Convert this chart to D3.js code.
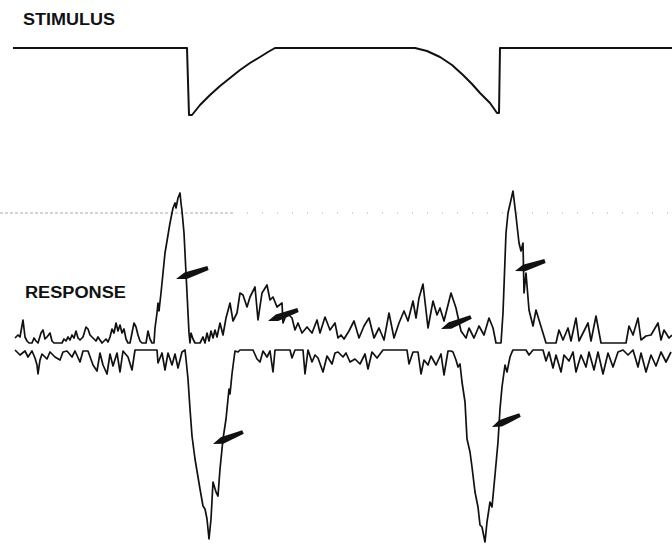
<!DOCTYPE html>
<html>
<head>
<meta charset="utf-8">
<script src="https://cdn.jsdelivr.net/npm/d3@7"></script>
<style>
  body { margin: 0; background: #fff; }
  svg { display: block; }
  .label { font-family: "Liberation Sans", Arial, sans-serif; font-size: 16px; font-weight: bold; fill: #111; }
  .trace { fill: none; stroke: #111; stroke-linejoin: round; }
</style>
</head>
<body>
<svg id="chart" width="672" height="544"></svg>
<script>
// stimulus waveform: [sample, level]
const stimulus = [
    [13, 0], [187, 0], [189, -67], [192, -67], [200, -57], [210, -47], [220, -38], [230, -30],
    [240, -22], [250, -15], [260, -9], [268, -4], [275, 0], [415, 0], [427, -3], [440, -9],
    [452, -17], [463, -27], [472, -36], [480, -45], [490, -55], [497, -65], [499, -65], [500, 0], [672, 0]
];

// response, upper (positive) half: [sample, amplitude]
const responseUp = [
    [15,5],[18,8],[20,6],[23,23],[25,6],[27,2],[29,0],[32,0],[34,5],[36,2],[38,0],[41,10],[43,13],[45,4],
    [47,6],[50,10],[52,2],[54,0],[58,0],[62,0],[64,4],[66,2],[68,6],[70,3],[72,8],[74,5],[76,12],[78,5],
    [80,3],[83,6],[86,16],[88,14],[90,8],[92,6],[94,4],[96,2],[98,6],[100,3],[102,0],[104,2],[106,4],[108,1],
    [110,6],[112,14],[114,10],[116,20],[118,12],[120,18],[122,10],[124,14],[126,4],[128,0],[130,0],[132,10],
    [134,20],[136,16],[138,8],[140,2],[142,0],[146,0],[148,12],[150,4],[152,0],[154,0],
    [155,15],[157,30],[158,40],[159,32],[161,50],[165,90],[170,120],[173,135],[175,140],[176,135],[178,145],
    [180,150],[181,140],[182,132],[184,110],[186,70],[188,30],[189,10],[190,0],
    [191,10],[193,4],[195,0],[200,0],[203,6],[205,0],[207,10],[209,2],[211,12],[213,5],[215,13],[217,6],
    [220,20],[223,8],[226,25],[230,40],[233,22],[237,30],[240,50],[243,48],[247,36],[250,46],[255,56],
    [258,23],[262,50],[267,58],[270,43],[273,46],[277,36],[282,40],[283,20],[287,30],[292,25],[295,13],
    [298,20],[302,10],[307,16],[312,10],[317,23],[320,10],[325,26],[330,13],[335,20],[338,5],[341,8],[344,4],
    [349,12],[354,22],[359,5],[364,17],[369,25],[374,5],[379,15],[384,3],[389,30],[394,5],[399,20],[404,32],
    [408,22],[413,42],[416,25],[419,45],[423,59],[428,15],[433,42],[437,28],[440,35],[444,22],[451,50],
    [456,35],[461,12],[466,5],[469,15],[474,5],[479,17],[484,8],[489,25],[493,15],[496,0],[501,0],
    [503,30],[506,110],[508,130],[513,152],[516,127],[519,100],[521,92],[523,100],[524,50],[526,70],[529,33],
    [533,17],[536,33],[539,23],[543,10],[546,0],
    [552,0],[556,0],[559,13],[563,3],[568,15],[571,2],[576,25],[579,2],[583,10],[588,20],[591,2],[596,27],
    [601,0],[626,0],[629,17],[633,8],[638,25],[641,3],[646,7],[651,8],[658,20],[661,3],[664,13],[669,5],[672,8]
];

// response, lower (negative) half: [sample, depth]
const responseDown = [
    [15,0],[20,5],[25,1],[28,7],[32,1],[35,8],[37,15],[38,24],[40,10],[42,4],[47,9],[50,2],[55,7],[60,10],
    [63,2],[67,1],[72,7],[75,1],[80,12],[83,1],[88,1],[93,15],[97,21],[100,3],[103,15],[107,24],[110,4],
    [113,16],[117,3],[120,22],[123,1],[128,7],[132,20],[135,0],[157,0],[158,13],[162,3],[165,20],[168,3],
    [172,15],[175,4],[178,18],[182,2],[185,0],
    [186,9],[188,29],[190,59],[192,86],[195,109],[200,139],[203,156],[205,159],[207,169],[209,189],[211,169],
    [213,132],[216,142],[218,146],[220,119],[223,89],[226,69],[228,49],[229,39],[230,44],[232,24],[233,16],
    [235,1],[238,2],
    [240,0],[253,0],[257,9],[260,12],[263,1],[267,7],[270,1],[273,22],[275,0],[290,0],[292,8],[295,0],[303,0],
    [305,24],[308,0],[312,12],[315,5],[318,8],[323,22],[327,6],[332,14],[335,3],[338,2],[343,7],[346,3],
    [350,12],[355,9],[360,14],[365,4],[368,19],[372,2],[377,8],[383,0],[407,0],[409,14],[413,2],[418,2],
    [421,24],[424,10],[428,15],[431,6],[436,15],[441,4],[444,25],[448,1],[451,1],
    [453,2],[456,10],[458,17],[460,14],[462,32],[465,52],[467,89],[470,102],[472,117],[475,142],[478,157],
    [480,175],[482,177],[485,192],[487,172],[490,152],[492,157],[495,125],[498,92],[500,59],[502,37],
    [505,15],[507,22],[510,7],[512,2],
    [513,0],[526,0],[529,5],[533,0],[543,0],[546,11],[549,2],[553,18],[556,5],[561,22],[564,5],[569,11],
    [573,2],[576,22],[581,5],[586,17],[589,2],[594,20],[598,2],[603,24],[608,3],[613,17],[618,2],[623,0],
    [628,5],[633,0],[638,17],[641,3],[646,22],[651,5],[656,16],[661,2],[666,12],[671,2]
];

// arrows: head and tail, in trace coordinates
const arrowsUp = [
    {head: [176, 64], tail: [208, 75]},
    {head: [268, 22], tail: [298, 33]},
    {head: [441, 14], tail: [471, 26]},
    {head: [515, 72], tail: [545, 82]}
];
const arrowsDown = [
    {head: [213, 94], tail: [243, 82]},
    {head: [492, 77], tail: [520, 65]}
];

// faint scan streak above the response
const streaks = [[0, 232, "3,2"], [232, 672, "1,14"]];

const svg = d3.select("#chart");

const x = d3.scaleLinear().domain([0, 672]).range([0, 672]);
const yStim = d3.scaleLinear().domain([-67, 0]).range([115, 48]);
const yUp = d3.scaleLinear().domain([0, 150]).range([343, 193]);
const yDown = d3.scaleLinear().domain([0, 190]).range([350, 540]);

// labels
svg.append("text").attr("class", "label")
    .attr("x", 23).attr("y", 25)
    .attr("textLength", 92).attr("lengthAdjust", "spacingAndGlyphs")
    .text("STIMULUS");

svg.append("text").attr("class", "label")
    .attr("x", 25).attr("y", 298)
    .attr("textLength", 101).attr("lengthAdjust", "spacingAndGlyphs")
    .text("RESPONSE");

// streak
svg.selectAll("line.streak")
    .data(streaks)
    .join("line")
    .attr("class", "streak")
    .attr("x1", d => x(d[0]))
    .attr("x2", d => x(d[1]))
    .attr("y1", yUp(130))
    .attr("y2", yUp(130))
    .attr("stroke", "#aaa")
    .attr("stroke-width", 1)
    .attr("stroke-dasharray", d => d[2]);

// stimulus
svg.append("path")
    .datum(stimulus)
    .attr("class", "trace")
    .attr("stroke-width", 2)
    .attr("d", d3.line().x(d => x(d[0])).y(d => yStim(d[1])));

// response halves
svg.append("path")
    .datum(responseUp)
    .attr("class", "trace")
    .attr("stroke-width", 1.7)
    .attr("d", d3.line().x(d => x(d[0])).y(d => yUp(d[1])));

svg.append("path")
    .datum(responseDown)
    .attr("class", "trace")
    .attr("stroke-width", 1.7)
    .attr("d", d3.line().x(d => x(d[0])).y(d => yDown(d[1])));

// arrows as tapered wedges
function arrowShape(a, yScale) {
    const hx = x(a.head[0]), hy = yScale(a.head[1]);
    const tx = x(a.tail[0]), ty = yScale(a.tail[1]);
    const dx = tx - hx, dy = ty - hy;
    const len = Math.sqrt(dx * dx + dy * dy);
    const ux = dx / len, uy = dy / len;
    const nx = -uy, ny = ux;
    const mx = hx + ux * len * 0.3, my = hy + uy * len * 0.3;
    return [
        [hx, hy],
        [mx + nx * 3.5, my + ny * 3.5],
        [tx + nx * 2, ty + ny * 2],
        [tx - nx * 2, ty - ny * 2],
        [mx - nx * 3.5, my - ny * 3.5]
    ];
}

svg.selectAll("polygon.arrow-up")
    .data(arrowsUp)
    .join("polygon")
    .attr("class", "arrow-up")
    .attr("points", d => arrowShape(d, yUp).map(p => p.join(",")).join(" "))
    .attr("fill", "#111");

svg.selectAll("polygon.arrow-down")
    .data(arrowsDown)
    .join("polygon")
    .attr("class", "arrow-down")
    .attr("points", d => arrowShape(d, yDown).map(p => p.join(",")).join(" "))
    .attr("fill", "#111");
</script>
</body>
</html>
